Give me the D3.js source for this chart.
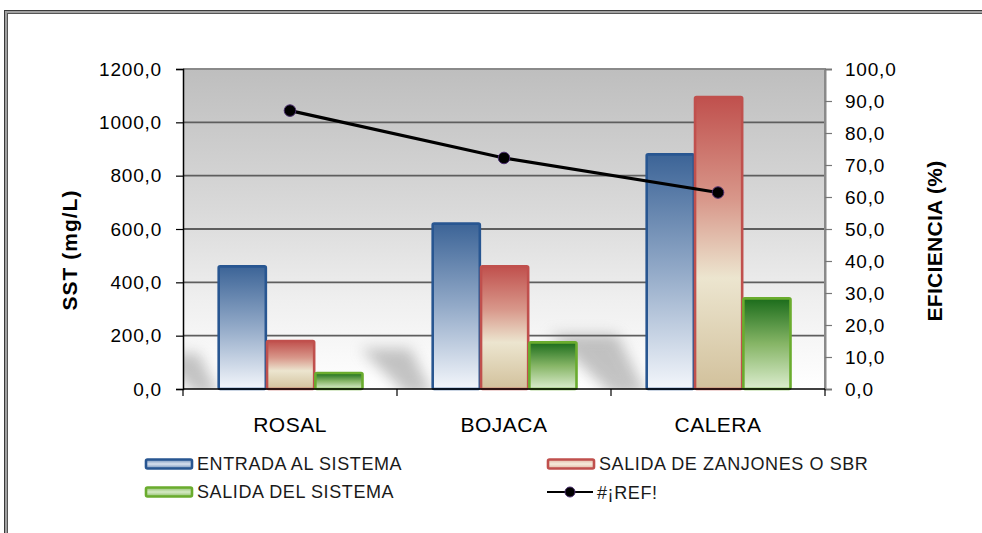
<!DOCTYPE html>
<html>
<head>
<meta charset="utf-8">
<script src="https://cdn.jsdelivr.net/npm/d3@7"></script>
<style>
  html, body { margin: 0; padding: 0; background: #fff; }
  svg { display: block; font-family: "Liberation Sans", Arial, sans-serif; }
</style>
</head>
<body>
<svg id="chart" width="982" height="533"></svg>
<script>
// Plant sites and suspended-solids measurements (mg/L)
const categories = ["ROSAL", "BOJACA", "CALERA"];
const seriesNames = ["ENTRADA AL SISTEMA", "SALIDA DE ZANJONES O SBR", "SALIDA DEL SISTEMA"];
const entrada = [460, 620, 880];
const salidaZanjones = [180, 460, 1095];
const salidaSistema = [60, 175, 340];
// Removal efficiency (%) plotted on the right axis
const lineName = "#¡REF!";
const eficiencia = [87.0, 72.2, 61.4];
// Axis ticks
const leftTicks = [0, 200, 400, 600, 800, 1000, 1200];
const rightTicks = [0, 10, 20, 30, 40, 50, 60, 70, 80, 90, 100];
const leftTitle = "SST (mg/L)";
const rightTitle = "EFICIENCIA (%)";

const seriesValues = [entrada, salidaZanjones, salidaSistema];

const svg = d3.select("#chart");
const plot = { left: 183, right: 825, top: 69, bottom: 389 };

const locale = d3.formatLocale({ decimal: ",", thousands: ".", grouping: [3], currency: ["$", ""] });
const fmt = locale.format(".1f");

const x0 = d3.scaleBand().domain(categories).range([plot.left, plot.right])
  .paddingInner(0.3224).paddingOuter(0.1612);
const xEdges = d3.scaleBand().domain(categories).range([plot.left, plot.right]).padding(0);
const x1 = d3.scaleBand().domain(d3.range(seriesNames.length)).range([0, x0.bandwidth()]);
const y = d3.scaleLinear().domain([0, 1200]).range([plot.bottom, plot.top]);
const yR = d3.scaleLinear().domain([0, 100]).range([plot.bottom, plot.top]);

const defs = svg.append("defs");
function vGrad(id, stops) {
  const g = defs.append("linearGradient").attr("id", id)
    .attr("x1", 0).attr("y1", 0).attr("x2", 0).attr("y2", 1);
  stops.forEach(([o, c]) => g.append("stop").attr("offset", o).attr("stop-color", c));
}
vGrad("bgGrad", [[0, "#bebebe"], [0.45, "#dadada"], [0.72, "#efefef"], [1, "#ffffff"]]);
const barStyles = [
  { stroke: "#285691", grad: "g0", stops: [[0, "#3c6497"], [0.5, "#93aac8"], [1, "#f3f6fb"]],
    sw: [[0, "#6f8fb8"], [0.5, "#d8e1ee"], [1, "#6f8fb8"]] },
  { stroke: "#c0504d", grad: "g1", stops: [[0, "#c0504d"], [0.35, "#d8978a"], [0.62, "#ece5cf"], [1, "#d2c19c"]],
    sw: [[0, "#e0b6a4"], [0.5, "#f6ecdc"], [1, "#e0b6a4"]] },
  { stroke: "#6aac2e", grad: "g2", stops: [[0, "#1b6c1b"], [0.5, "#86b566"], [1, "#dcedcf"]],
    sw: [[0, "#8fc06a"], [0.5, "#d6eac6"], [1, "#8fc06a"]] }
];
barStyles.forEach((s, i) => { vGrad(s.grad, s.stops); vGrad("sw" + i, s.sw); });

defs.append("filter").attr("id", "soft").attr("x", "-50%").attr("y", "-50%")
  .attr("width", "200%").attr("height", "200%")
  .append("feGaussianBlur").attr("stdDeviation", 7);
defs.append("clipPath").attr("id", "plotClip").append("rect")
  .attr("x", plot.left).attr("y", plot.top)
  .attr("width", plot.right - plot.left).attr("height", plot.bottom - plot.top);

// Outer frame (double line)
svg.append("rect").attr("x", 4.5).attr("y", 10.5).attr("width", 1000).attr("height", 540)
  .attr("fill", "none").attr("stroke", "#3a3a3a").attr("stroke-width", 1);
svg.append("rect").attr("x", 6).attr("y", 12).attr("width", 1000).attr("height", 540)
  .attr("fill", "none").attr("stroke", "#a0a0a0").attr("stroke-width", 2);
svg.append("rect").attr("x", 7.5).attr("y", 13.5).attr("width", 1000).attr("height", 540)
  .attr("fill", "none").attr("stroke", "#555").attr("stroke-width", 1);

// Plot background
svg.append("rect").attr("x", plot.left).attr("y", plot.top)
  .attr("width", plot.right - plot.left).attr("height", plot.bottom - plot.top)
  .attr("fill", "url(#bgGrad)");

// Soft floor shadows beside each bar group
const shadowG = svg.append("g").attr("clip-path", "url(#plotClip)");
categories.forEach((c, i) => {
  const maxV = d3.max(seriesValues, s => s[i]);
  const h = 22 + maxV * 0.03;
  const d = h * 1.75;
  const bx = x0(c) + x1(0);
  const pts = [[bx + 2, plot.bottom + 6], [bx - d * 0.35, plot.bottom + 6], [bx - d, plot.bottom - h], [bx - d * 0.3, plot.bottom - h]];
  shadowG.append("polygon").attr("points", pts.map(p => p.join(",")).join(" "))
    .attr("fill", "#8a8a8a").attr("opacity", 0.5).attr("filter", "url(#soft)");
});

// Horizontal gridlines
svg.append("g").selectAll("line").data(leftTicks.filter(t => t > 0 && t < 1200)).join("line")
  .attr("x1", plot.left).attr("x2", plot.right)
  .attr("y1", d => y(d)).attr("y2", d => y(d))
  .attr("stroke", "#5e5e5e").attr("stroke-width", 1.8);

// Plot border (top and right)
svg.append("path")
  .attr("d", `M${plot.left},${plot.top}H${plot.right}V${plot.bottom}`)
  .attr("fill", "none").attr("stroke", "#8a8a8a").attr("stroke-width", 2);

// Bars
const groups = svg.append("g").selectAll("g").data(categories).join("g")
  .attr("transform", c => `translate(${x0(c)},0)`);
groups.selectAll("rect")
  .data((c, ci) => seriesValues.map((s, si) => ({ si, v: s[ci] })))
  .join("rect")
  .attr("x", d => x1(d.si) + 1.2)
  .attr("y", d => y(d.v))
  .attr("width", x1.bandwidth() - 1.2)
  .attr("height", d => y(0) - y(d.v))
  .attr("rx", 1.5)
  .attr("fill", d => `url(#${barStyles[d.si].grad})`)
  .attr("stroke", d => barStyles[d.si].stroke)
  .attr("stroke-width", 2.6);

// Efficiency line
const linePts = categories.map((c, i) => [x0(c) + x0.bandwidth() / 2, yR(eficiencia[i])]);
svg.append("path").attr("d", d3.line()(linePts))
  .attr("fill", "none").attr("stroke", "#000").attr("stroke-width", 3.2);
svg.append("g").selectAll("circle").data(linePts).join("circle")
  .attr("cx", d => d[0]).attr("cy", d => d[1]).attr("r", 5.8)
  .attr("fill", "#000").attr("stroke", "#4a2d6e").attr("stroke-width", 1);

// Left axis
const leftAxis = svg.append("g").attr("transform", `translate(${plot.left},0)`)
  .call(d3.axisLeft(y).tickValues(leftTicks).tickFormat(fmt).tickSize(7).tickPadding(14));
// Right axis
const rightAxis = svg.append("g").attr("transform", `translate(${plot.right},0)`)
  .call(d3.axisRight(yR).tickValues(rightTicks).tickFormat(fmt).tickSize(7).tickPadding(13));
rightAxis.select(".domain").attr("stroke", "#8a8a8a").attr("stroke-width", 2);
rightAxis.selectAll(".tick line").attr("stroke", "#777").attr("stroke-width", 1.2);
leftAxis.select(".domain").attr("stroke", "#000").attr("stroke-width", 1.5);
leftAxis.selectAll(".tick line").attr("stroke", "#000").attr("stroke-width", 1.2);
[leftAxis, rightAxis].forEach(a => a.selectAll(".tick text")
  .attr("font-family", "'Liberation Sans', Arial, sans-serif")
  .attr("font-size", 19).attr("letter-spacing", 0.8).attr("fill", "#000"));

// Bottom axis: category separators and labels
const xAxis = svg.append("g").attr("transform", `translate(0,${plot.bottom})`);
xAxis.append("line").attr("x1", plot.left).attr("x2", plot.right)
  .attr("stroke", "#000").attr("stroke-width", 1.5);
const edges = categories.map(c => xEdges(c)).concat([plot.right]);
xAxis.selectAll("line.sep").data(edges).join("line").attr("class", "sep")
  .attr("x1", d => d).attr("x2", d => d).attr("y1", 0).attr("y2", 7)
  .attr("stroke", "#000").attr("stroke-width", 1.2);
xAxis.selectAll("text").data(categories).join("text")
  .attr("x", c => x0(c) + x0.bandwidth() / 2).attr("y", 43)
  .attr("text-anchor", "middle").attr("font-size", 21).attr("letter-spacing", 0.5)
  .attr("fill", "#000").text(c => c);

// Axis titles
svg.append("text").attr("transform", "translate(70,250) rotate(-90)")
  .attr("text-anchor", "middle").attr("dy", "0.35em")
  .attr("font-size", 21).attr("font-weight", "bold").attr("letter-spacing", 1)
  .text(leftTitle);
svg.append("text").attr("transform", "translate(935,241) rotate(-90)")
  .attr("text-anchor", "middle").attr("dy", "0.35em")
  .attr("font-size", 21).attr("font-weight", "bold").attr("letter-spacing", 0.3)
  .text(rightTitle);

// Legend
const legendItems = [
  { type: "bar", si: 0, x: 145, y: 464 },
  { type: "bar", si: 1, x: 547, y: 464 },
  { type: "bar", si: 2, x: 145, y: 492 },
  { type: "line", x: 547, y: 492 }
];
const legend = svg.append("g");
legendItems.forEach(it => {
  const g = legend.append("g");
  if (it.type === "bar") {
    g.append("rect").attr("x", it.x + 1).attr("y", it.y - 4.5).attr("width", 46).attr("height", 9)
      .attr("rx", 1.5).attr("fill", `url(#sw${it.si})`)
      .attr("stroke", barStyles[it.si].stroke).attr("stroke-width", 2.6);
    g.append("text").attr("x", it.x + 52).attr("y", it.y + 6)
      .attr("font-size", 18).attr("letter-spacing", 0.6).attr("fill", "#1a1a1a")
      .text(seriesNames[it.si]);
  } else {
    g.append("line").attr("x1", it.x).attr("x2", it.x + 46).attr("y1", it.y).attr("y2", it.y)
      .attr("stroke", "#000").attr("stroke-width", 2.2);
    g.append("circle").attr("cx", it.x + 23).attr("cy", it.y).attr("r", 5)
      .attr("fill", "#000").attr("stroke", "#4a2d6e").attr("stroke-width", 1);
    g.append("text").attr("x", it.x + 50).attr("y", it.y + 7)
      .attr("font-size", 18).attr("letter-spacing", 0.6).attr("fill", "#1a1a1a")
      .text(lineName);
  }
});
</script>
</body>
</html>
